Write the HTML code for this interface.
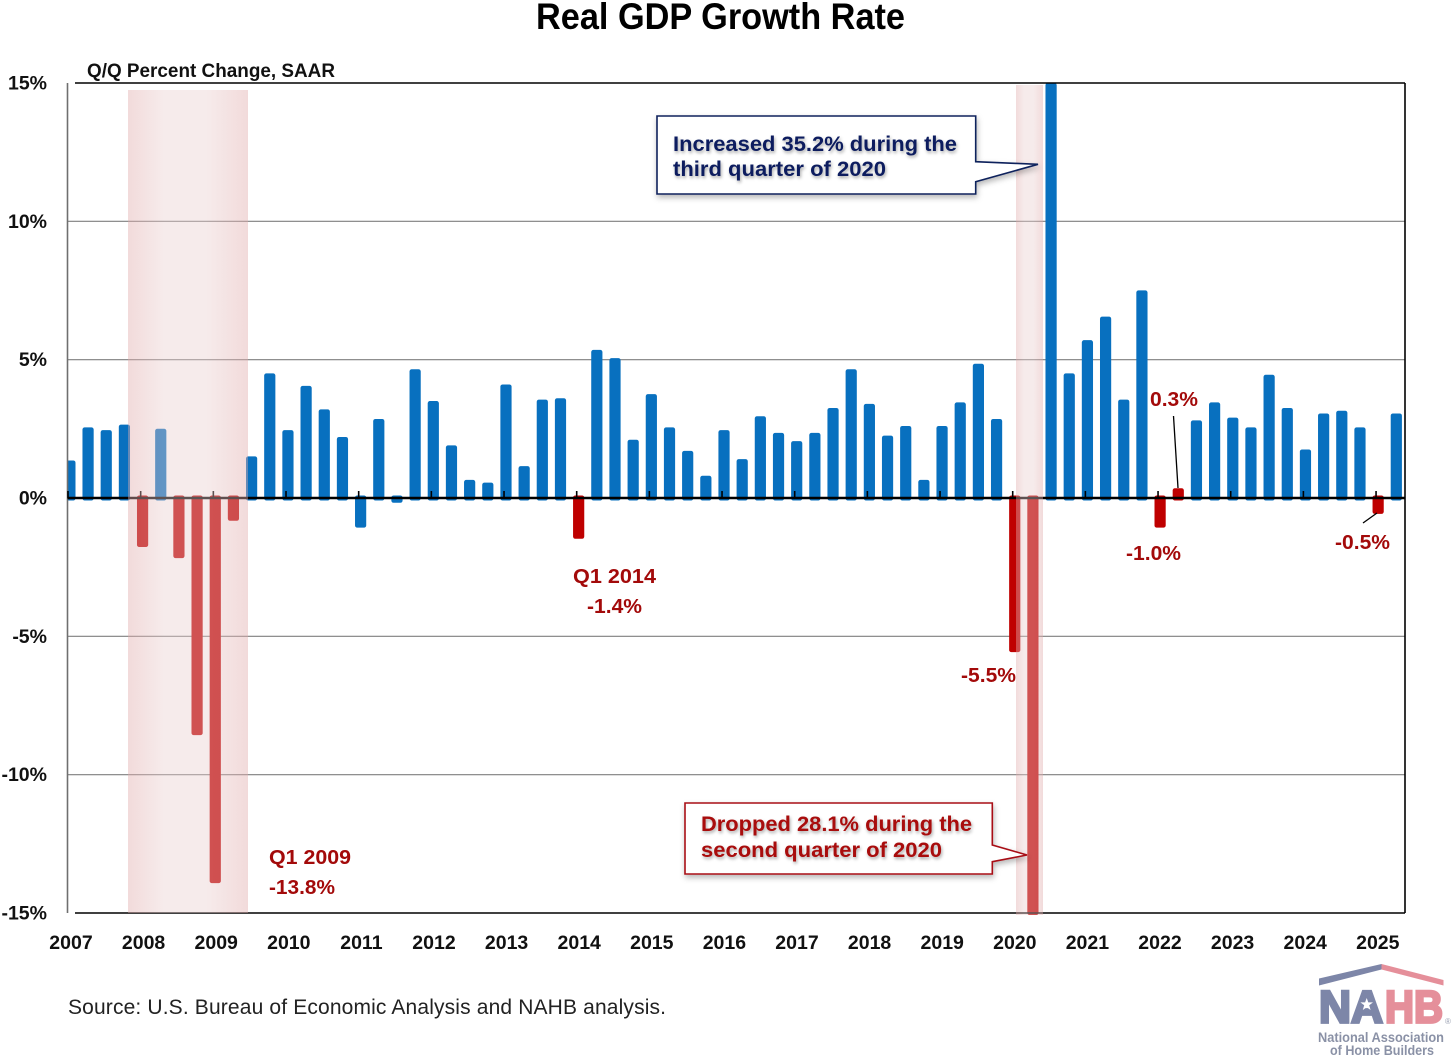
<!DOCTYPE html>
<html lang="en">
<head>
<meta charset="utf-8">
<title>Real GDP Growth Rate</title>
<style>
html,body{margin:0;padding:0;background:#fff;width:1456px;height:1060px;overflow:hidden;}
svg{display:block;}
text{font-family:"Liberation Sans",sans-serif;}
.b{font-weight:700;}
.tick{font-weight:700;font-size:19.5px;fill:#111;}
.red{font-weight:700;font-size:20px;fill:#a30a0a;}
</style>
</head>
<body>
<svg id="chart" width="1456" height="1060" viewBox="0 0 1456 1060" xmlns="http://www.w3.org/2000/svg">
  <defs>
    <linearGradient id="bandGrad" x1="0" x2="1" y1="0" y2="0">
      <stop offset="0" stop-color="#e1aaaa" stop-opacity="0.43"/>
      <stop offset="0.3" stop-color="#e9cdcd" stop-opacity="0.4"/>
      <stop offset="0.65" stop-color="#e9cdcd" stop-opacity="0.4"/>
      <stop offset="1" stop-color="#e1aaaa" stop-opacity="0.43"/>
    </linearGradient>
    <clipPath id="plotClip"><rect x="67.5" y="83" width="1338" height="832"/></clipPath>
    <filter id="boxShadow" x="-10%" y="-15%" width="120%" height="135%">
      <feDropShadow dx="1" dy="3" stdDeviation="3" flood-color="#000" flood-opacity="0.28"/>
    </filter>
    <filter id="textShadow" x="-5%" y="-20%" width="110%" height="150%">
      <feDropShadow dx="1" dy="2" stdDeviation="1.6" flood-color="#000" flood-opacity="0.35"/>
    </filter>
  </defs>

  <text class="b" x="536" y="29" font-size="37" fill="#000" textLength="369" lengthAdjust="spacingAndGlyphs">Real GDP Growth Rate</text>
  <text class="b" x="87" y="77" font-size="19" fill="#111" textLength="248" lengthAdjust="spacingAndGlyphs">Q/Q Percent Change, SAAR</text>

  <g id="grid"></g>
  <g id="bars" clip-path="url(#plotClip)"></g>
  <g id="axes"></g>
  <g id="yLabels"></g>
  <g id="xLabels"></g>

  <rect x="128" y="90" width="120" height="823" fill="url(#bandGrad)"/>
  <rect x="1016" y="85" width="27" height="830" fill="url(#bandGrad)"/>

  <g>
    <path d="M657 116H975.7V161.7L1038 164.3L975.7 181.7V194H657Z" fill="#fff" stroke="#10205c" stroke-width="1.6" filter="url(#boxShadow)"/>
    <g filter="url(#textShadow)">
      <text class="b" x="673" y="151" font-size="21.5" fill="#0c1f5e" textLength="284" lengthAdjust="spacingAndGlyphs">Increased 35.2% during the</text>
      <text class="b" x="673" y="176" font-size="21.5" fill="#0c1f5e" textLength="213" lengthAdjust="spacingAndGlyphs">third quarter of 2020</text>
    </g>
  </g>

  <g>
    <path d="M685 803H992.3V845L1027 855L992.3 861.7V874H685Z" fill="#fff" stroke="#a80f14" stroke-width="1.6" filter="url(#boxShadow)"/>
    <g filter="url(#textShadow)">
      <text class="b" x="701" y="831" font-size="21.5" fill="#a80808" textLength="271" lengthAdjust="spacingAndGlyphs">Dropped 28.1% during the</text>
      <text class="b" x="701" y="857" font-size="21.5" fill="#a80808" textLength="241" lengthAdjust="spacingAndGlyphs">second quarter of 2020</text>
    </g>
  </g>

  <text class="red" x="269" y="864" textLength="82" lengthAdjust="spacingAndGlyphs">Q1 2009</text>
  <text class="red" x="269" y="894" textLength="66" lengthAdjust="spacingAndGlyphs">-13.8%</text>
  <text class="red" x="573" y="583" textLength="83" lengthAdjust="spacingAndGlyphs">Q1 2014</text>
  <text class="red" x="587" y="613" textLength="55" lengthAdjust="spacingAndGlyphs">-1.4%</text>
  <text class="red" x="961" y="682" textLength="55" lengthAdjust="spacingAndGlyphs">-5.5%</text>
  <text class="red" x="1126" y="560" textLength="55" lengthAdjust="spacingAndGlyphs">-1.0%</text>
  <text class="red" x="1150" y="406" textLength="48" lengthAdjust="spacingAndGlyphs">0.3%</text>
  <text class="red" x="1335" y="549" textLength="55" lengthAdjust="spacingAndGlyphs">-0.5%</text>
  <line x1="1173.5" y1="416" x2="1178" y2="488" stroke="#000" stroke-width="1.3"/>
  <line x1="1363" y1="523" x2="1377" y2="513" stroke="#000" stroke-width="1.3"/>

  <text x="68" y="1014" font-size="21" fill="#222" textLength="598" lengthAdjust="spacing">Source: U.S. Bureau of Economic Analysis and NAHB analysis.</text>

  <g>
    <polygon points="1319,978.5 1381.5,964 1381.5,969.5 1319,985.5" fill="#7d86a8"/>
    <polygon points="1381.5,964 1443.5,980 1443.5,985.5 1381.5,969.5" fill="#e58f9a"/>
    <text class="b" x="1319" y="1022.5" font-size="45" fill="#7d86a8" stroke="#7d86a8" stroke-width="2.8" textLength="64" lengthAdjust="spacingAndGlyphs">NA</text>
    <text class="b" x="1385" y="1022.5" font-size="45" fill="#e58f9a" stroke="#e58f9a" stroke-width="2.8" textLength="58" lengthAdjust="spacingAndGlyphs">HB</text>
    <polygon points="1366.7,998 1368.3,1002.4 1373,1002.4 1369.2,1005.3 1370.6,1010 1366.7,1007.2 1362.8,1010 1364.2,1005.3 1360.4,1002.4 1365.1,1002.4" fill="#fff"/>
    <text x="1445" y="1024" font-size="8" fill="#9aa0b2">®</text>
    <text class="b" x="1318" y="1042" font-size="14" fill="#8a91a6" textLength="126" lengthAdjust="spacingAndGlyphs">National Association</text>
    <text class="b" x="1330" y="1055" font-size="14" fill="#8a91a6" textLength="104" lengthAdjust="spacingAndGlyphs">of Home Builders</text>
  </g>
</svg>

<script>
const yearLabels = ['2007','2008','2009','2010','2011','2012','2013','2014','2015','2016','2017','2018','2019','2020','2021','2022','2023','2024','2025'];
const yTickValues = [15,10,5,0,-5,-10,-15];
const yTickLabels = ['15%','10%','5%','0%','-5%','-10%','-15%'];
const quarters = [
  '2007Q1','2007Q2','2007Q3','2007Q4','2008Q1','2008Q2','2008Q3','2008Q4',
  '2009Q1','2009Q2','2009Q3','2009Q4','2010Q1','2010Q2','2010Q3','2010Q4',
  '2011Q1','2011Q2','2011Q3','2011Q4','2012Q1','2012Q2','2012Q3','2012Q4',
  '2013Q1','2013Q2','2013Q3','2013Q4','2014Q1','2014Q2','2014Q3','2014Q4',
  '2015Q1','2015Q2','2015Q3','2015Q4','2016Q1','2016Q2','2016Q3','2016Q4',
  '2017Q1','2017Q2','2017Q3','2017Q4','2018Q1','2018Q2','2018Q3','2018Q4',
  '2019Q1','2019Q2','2019Q3','2019Q4','2020Q1','2020Q2','2020Q3','2020Q4',
  '2021Q1','2021Q2','2021Q3','2021Q4','2022Q1','2022Q2','2022Q3','2022Q4',
  '2023Q1','2023Q2','2023Q3','2023Q4','2024Q1','2024Q2','2024Q3','2024Q4',
  '2025Q1','2025Q2'
];
const growthValues = [
  1.3,2.5,2.4,2.6,-1.7,2.45,-2.1,-8.5,
  -13.85,-0.75,1.45,4.45,2.4,4.0,3.15,2.15,
  -1.0,2.8,-0.1,4.6,3.45,1.85,0.6,0.5,
  4.05,1.1,3.5,3.55,-1.4,5.3,5.0,2.05,
  3.7,2.5,1.65,0.75,2.4,1.35,2.9,2.3,
  2.0,2.3,3.2,4.6,3.35,2.2,2.55,0.6,
  2.55,3.4,4.8,2.8,-5.5,-28.1,35.2,4.45,
  5.65,6.5,3.5,7.45,-1.0,0.3,2.75,3.4,
  2.85,2.5,4.4,3.2,1.7,3.0,3.1,2.5,
  -0.5,3.0
];
const redQuarters = ['2008Q1','2008Q3','2008Q4','2009Q1','2009Q2','2014Q1','2020Q1','2020Q2','2022Q1','2022Q2','2025Q1'];

const NS = 'http://www.w3.org/2000/svg';
const PLOT_LEFT = 67.5, PLOT_RIGHT = 1405, PLOT_TOP = 83, PLOT_BOTTOM = 913;
const BAR_CLIP_BOTTOM = 915;
function yPos(v){ return 498 + (0 - v) * (PLOT_BOTTOM - PLOT_TOP) / 30; }
function xPos(i){ return 69.9 + 18.17 * i; }
function yearTickX(i){ return 68 + 72.67 * i; }
function yearLabelX(i){ return 71 + 72.6 * i; }
function mk(tag, attrs, parent){
  const el = document.createElementNS(NS, tag);
  for (const k in attrs) el.setAttribute(k, attrs[k]);
  parent.appendChild(el);
  return el;
}

const grid = document.getElementById('grid');
yTickValues.forEach(function(v){
  if (v === 0 || Math.abs(v) === 15) return;
  const line = mk('line', {x1:PLOT_LEFT, x2:PLOT_RIGHT, y1:yPos(v), y2:yPos(v), stroke:'#7f7f7f', 'stroke-width':1.2}, grid);
  
  
});

const barsGroup = document.getElementById('bars');
growthValues.forEach(function(v, i){
  const rawTop = v >= 0 ? yPos(v) - 1.5 : yPos(0) - 2.5;
  const rawBottom = v >= 0 ? yPos(0) + 2.5 : yPos(v) + 2;
  /* bars beyond the axis range are cut off at the plot edge */
  const top = Math.max(rawTop, PLOT_TOP);
  const bottom = Math.min(rawBottom, BAR_CLIP_BOTTOM);
  const isRed = redQuarters.indexOf(quarters[i]) !== -1;
  const bar = mk('rect', {
    x: xPos(i) - 5.6, y: top, width: 11.2, height: Math.max(bottom - top, 1), rx: 2.2,
    fill: isRed ? '#bf0000' : '#0870bf'
  }, barsGroup);
  
  
});

const axes = document.getElementById('axes');
const frame = [
  ['axis-top',    75, PLOT_TOP, PLOT_RIGHT, PLOT_TOP, '#000', 1.6],
  ['axis-right',  PLOT_RIGHT, PLOT_TOP, PLOT_RIGHT, PLOT_BOTTOM, '#000', 1.6],
  ['axis-bottom', 75, PLOT_BOTTOM, PLOT_RIGHT, PLOT_BOTTOM, '#000', 1.6],
  ['axis-left',   PLOT_LEFT, PLOT_TOP, PLOT_LEFT, PLOT_BOTTOM, '#6f6f6f', 1.6],
  ['axis-zero',   PLOT_LEFT, yPos(0), PLOT_RIGHT, yPos(0), '#000', 2.6]
];
frame.forEach(function(f){
  const line = mk('line', {x1:f[1], y1:f[2], x2:f[3], y2:f[4], stroke:f[5], 'stroke-width':f[6]}, axes);
  
  
});
yearLabels.forEach(function(y, i){
  const tick = mk('line', {x1:yearTickX(i), x2:yearTickX(i), y1:yPos(0) - 7, y2:yPos(0), stroke:'#000', 'stroke-width':1.6}, axes);
  
  
});

const yLabels = document.getElementById('yLabels');
yTickValues.forEach(function(v, i){
  const t = mk('text', {x:47, y:yPos(v) + 6.5, 'text-anchor':'end', class:'tick'}, yLabels);
  t.textContent = yTickLabels[i];
  
  
});

const xLabels = document.getElementById('xLabels');
yearLabels.forEach(function(y, i){
  const t = mk('text', {x:yearLabelX(i), y:949, 'text-anchor':'middle', class:'tick'}, xLabels);
  t.textContent = y;
  
  
});
</script>
</body>
</html>
